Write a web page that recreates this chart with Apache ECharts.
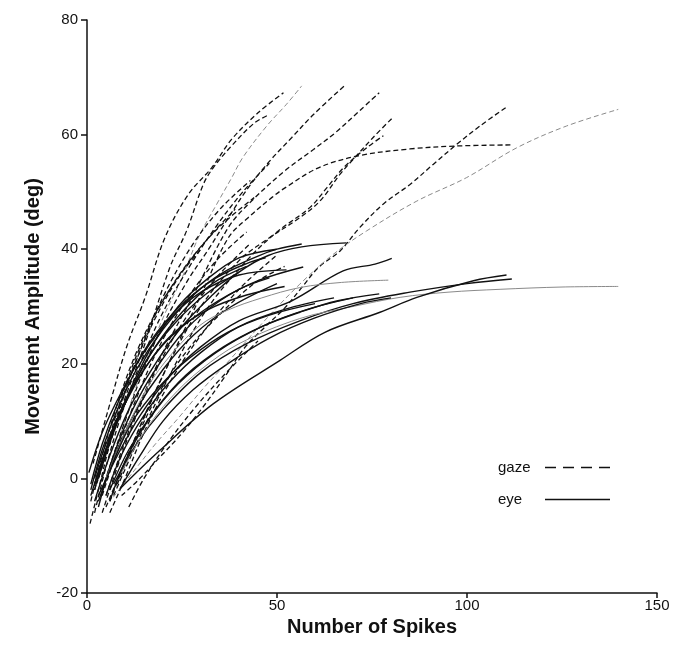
<!DOCTYPE html>
<html>
<head>
<meta charset="utf-8">
<script src="https://cdn.jsdelivr.net/npm/echarts@6/dist/echarts.min.js"></script>
<style>
  html, body { margin: 0; padding: 0; background: #fff; }
  #chart { width: 678px; height: 663px; }
</style>
</head>
<body>
<div id="chart"></div>
<script>
// movement amplitude vs number of spikes — gaze (dashed) and eye (solid) fits, one line per cell
// values as [spikes, deg] points along each curve

// gaze curves
const G1  = [[1.6,2.6],[5.5,11.8],[10.4,22.9],[15.3,31.6],[20.5,42],[26.7,49.6],[32.8,54.2],[38.1,59.2],[45,63.8],[51.7,67.3]];
const G2  = [[2.5,-1],[6,6],[10,14],[15,23],[21.8,36.8],[26.2,43.2],[30.6,51.3],[33.2,54.2],[38,58],[44,62],[48,63.5]];
const G3  = [[3,-4],[8,6],[14,18],[20,28],[25,35],[29.3,42],[34.6,48.4],[38.1,52.5],[41,56],[47.3,61.5],[52.5,65.3],[56.5,68.5]];
const G4  = [[4,-2],[10,10],[18,24],[26,34],[32,40],[37.2,45.5],[42.4,50.7],[47.7,55.1],[53.9,59.5],[59.6,63.5],[67.7,68.5]];
const G5  = [[5,-3],[12,10],[20,22],[28,32],[37.2,43.8],[43.3,48.4],[52.1,53.7],[59.6,57.4],[65.3,60.3],[71.8,64.2],[76.9,67.3]];
const G6  = [[6,-4],[12,6],[20,18],[30,30],[40,38],[48,42],[56,45.5],[61.3,48.4],[66.6,53.1],[70.5,56],[75.3,59.5],[80.2,62.8]];
const G7  = [[7,-3],[13,6],[21,17],[31,29],[42,38],[50,43],[58.7,47.3],[63.1,50.7],[67.5,54.2],[73.6,57.7],[78,59.8]];
const G8  = [[5,-5],[12,6],[20,18],[30,32],[37.2,42],[42.4,45.5],[48.6,49],[52.1,50.7],[60.9,54.2],[71.4,56.3],[85,57.5],[96.8,58],[111.8,58.2]];
const G9  = [[9.1,-3],[13.5,-0.3],[18.3,3.1],[24.5,7.5],[30,12],[36,17.5],[41.6,22.9],[46.8,26.4],[52.1,29.8],[56.5,33.3],[60.9,36.8],[66.6,39.7],[71.8,43.8],[78,47.9],[85,51.3],[91.1,54.8],[97.3,58.3],[103.4,61.5],[110.4,64.8]];
const G10 = [[6.9,-3.3],[12,1],[18,6],[24,10.5],[31,16],[38,21],[46,27],[56,33.9],[64.8,39.1],[73.6,43.2],[86.8,48.4],[99.9,52.5],[113.1,57.7],[126.2,61.5],[139.8,64.4]];
const G11 = [[0.8,-7.9],[3,-2],[6,6],[10,15],[15,24],[21,33],[28,41],[35,47],[43,52]];
const G12 = [[2,-6],[5,2],[9,11],[14,20],[20,29],[27,37],[34,44],[41,50],[48,55]];
const G13 = [[3,0],[7,9],[12,19],[18,28],[25,36],[32,42],[39,47]];
const G14 = [[4,-6],[8,2],[13,11],[19,20],[26,28],[34,35],[43,41]];
const G15 = [[1,-4],[4,4],[8,13],[13,22],[19,30],[25,36],[30,40]];
const G16 = [[6,-6],[10,0],[15,8],[22,17],[30,25],[40,33],[50,39]];
const G17 = [[11,-5],[15,0],[21,6],[28,12],[36,18],[45,24]];
const G18 = [[8,-1],[13,7],[19,15],[26,22],[34,28],[44,34],[52,37]];
const G19 = [[2,-2],[5,5],[9,14],[14,23],[20,31],[27,38],[35,44],[44,49]];
const G20 = [[4,-3],[8,5],[13,14],[19,23],[26,31],[34,38],[42,43]];

// eye curves
const E1  = [[1,-2],[4,5],[8,12],[13,19],[20,26],[28,32],[36,36],[45,38.8],[50,40],[56.5,40.9]];
const E2  = [[2,-4],[6,4],[11,12],[17,19],[25,26.5],[33,32],[40,36],[47.7,38.9],[56.5,40.4],[68.3,41.1]];
const E3  = [[3,-5],[7,4],[12,12],[18,19],[26,26],[35,31],[45,34.5],[56.9,36.9]];
const E4  = [[0.5,1],[4,8],[9,15],[15,22],[22,28],[30,32.5],[40,35.5],[52.5,36.4]];
const E5  = [[2,-1],[6,7],[11,15],[17,23],[24,30],[32,35],[40,38.5],[49.9,40]];
const E6  = [[1,-3],[5,5],[10,13],[16,21],[23,27],[31,32],[40,36]];
const E7  = [[4,-2],[8,5],[13,12],[20,19],[28,25],[38,30],[50,34]];
const E8  = [[3,-3],[8,4],[14,11],[22,18],[30,23],[40,27.5],[53.9,31],[67.4,36.2],[75.8,37.4],[80.2,38.4]];
const E9  = [[5,0],[10,8],[16,16],[22,21.5],[29.7,26.7],[36.8,29.3],[46,31.5],[56,33.3],[67,34.2],[79.3,34.6]];
const E10 = [[6,-2],[11,5],[18,12],[26,18],[36,23],[46,26.5],[56,29],[66,31],[76.9,32.2]];
const E11 = [[7,-1],[13,6],[20,12],[30,18.5],[42,23.5],[56,27.5],[70,30.5],[85,32.5],[100,34],[111.8,34.8]];
const E12 = [[9,1],[15,8],[22,14],[30,19],[40,23.5],[56,27.9],[70,30],[82.4,31.6],[95,32.5],[108.7,33],[125,33.4],[139.8,33.5]];
const E13 = [[8.7,-1.8],[19.2,4.9],[33.2,13],[50.8,20.6],[62.6,25.5],[77.1,29],[86.8,31.6],[101.7,34.5],[110.4,35.5]];
const E14 = [[8.7,-1.8],[14,4],[20,10],[28,15.5],[37,20],[48,24.5],[60,28],[72,30.5],[80,31.5]];
const E15 = [[2,0],[5,6],[10,13],[16,20],[23,25.5],[32,29.5],[42,32],[52,33.5]];
const E16 = [[3,-4],[7,3],[12,10],[19,16],[27,21],[37,25.5],[48,28.5],[60,30.5]];
const E17 = [[1,-1],[4,6],[8,13],[13,20],[19,26],[26,31],[34,35],[42,37.5],[47,38.5]];
const E18 = [[5,-3],[9,4],[15,11],[22,17],[30,22],[40,26.5],[52,29.5],[65,31.5]];
const E19 = [[2,-2],[5,5],[9,12],[14,18],[21,24],[30,29],[40,33],[48,35]];
const E20 = [[3,0],[7,8],[12,16],[18,23],[25,29],[33,34],[42,37]];
const E21 = [[6,-4],[10,3],[16,10],[24,16.5],[34,22],[46,26.5],[58,29.5],[70,31.5]];

const GAZE = [G1, G2, G3, G4, G5, G6, G7, G8, G9, G10, G11, G12, G13, G14, G15, G16, G17, G18, G19, G20];
const EYE  = [E1, E2, E3, E4, E5, E6, E7, E8, E9, E10, E11, E12, E13, E14, E15, E16, E17, E18, E19, E20, E21];
const GAZE_GRAY = [2, 9];   // lighter printed curves (indexes into GAZE)
const EYE_GRAY  = [8, 11];

const X_TICKS = [0, 50, 100, 150];
const Y_TICKS = [-20, 0, 20, 40, 60, 80];
const LEGEND_NAMES = ["gaze", "eye"];

const FONT = "'Liberation Sans', Arial, Helvetica, sans-serif";

const chart = echarts.init(document.getElementById("chart"), null, { renderer: "canvas" });

const series = [];
GAZE.forEach((pts, i) => {
  const gray = GAZE_GRAY.includes(i);
  series.push({
    name: "gaze", type: "line", data: pts, smooth: 0.35, symbol: "none",
    lineStyle: { color: gray ? "#8a8a8a" : "#111", width: gray ? 1 : 1.3, type: [5, 3] },
    itemStyle: { color: "#111" }, z: 2,
  });
});
EYE.forEach((pts, i) => {
  const gray = EYE_GRAY.includes(i);
  series.push({
    name: "eye", type: "line", data: pts, smooth: 0.35, symbol: "none",
    lineStyle: { color: gray ? "#8a8a8a" : "#111", width: gray ? 1 : 1.4, type: "solid" },
    itemStyle: { color: "#111" }, z: 3,
  });
});

chart.setOption({
  backgroundColor: "#fff",
  animation: false,
  grid: { left: 87, right: 21, top: 20, bottom: 70 },
  legend: {
    orient: "vertical", left: 493, top: 455, bottom: null, right: null,
    align: "right", itemWidth: 65, itemHeight: 10, itemGap: 17, selectedMode: false,
    itemStyle: { opacity: 0, borderWidth: 0 },
    formatter: n => `{t|${n}}`,
    textStyle: {
      fontFamily: FONT, fontSize: 15, color: "#111",
      rich: { t: { width: 42, align: "left", fontFamily: FONT, fontSize: 15, color: "#111" } },
    },
    data: [
      { name: LEGEND_NAMES[0], lineStyle: { color: "#111", width: 1.3, type: [11, 7] } },
      { name: LEGEND_NAMES[1], lineStyle: { color: "#111", width: 1.6, type: "solid" } },
    ],
  },
  xAxis: {
    type: "value", min: 0, max: 150, interval: 50,
    name: "Number of Spikes", nameLocation: "middle", nameGap: 11,
    nameTextStyle: { fontFamily: FONT, fontSize: 20, fontWeight: "bold", color: "#111", verticalAlign: "top" },
    axisLine: { show: true, onZero: false, lineStyle: { color: "#111", width: 1.5 } },
    axisTick: { show: true, length: 5, lineStyle: { color: "#111", width: 1.5 } },
    axisLabel: { fontFamily: FONT, fontSize: 15, color: "#111", margin: 5,
                 formatter: v => X_TICKS.includes(v) ? String(v) : "" },
    splitLine: { show: false },
  },
  yAxis: {
    type: "value", min: -20, max: 80, interval: 20,
    name: "Movement Amplitude (deg)", nameLocation: "middle", nameGap: 44, nameRotate: 90,
    nameTextStyle: { fontFamily: FONT, fontSize: 20, fontWeight: "bold", color: "#111" },
    axisLine: { show: true, onZero: false, lineStyle: { color: "#111", width: 1.5 } },
    axisTick: { show: true, length: 6, lineStyle: { color: "#111", width: 1.5 } },
    axisLabel: { fontFamily: FONT, fontSize: 15, color: "#111", margin: 9,
                 formatter: v => Y_TICKS.includes(v) ? String(v) : "" },
    splitLine: { show: false },
  },
  series,
});
</script>
</body>
</html>
